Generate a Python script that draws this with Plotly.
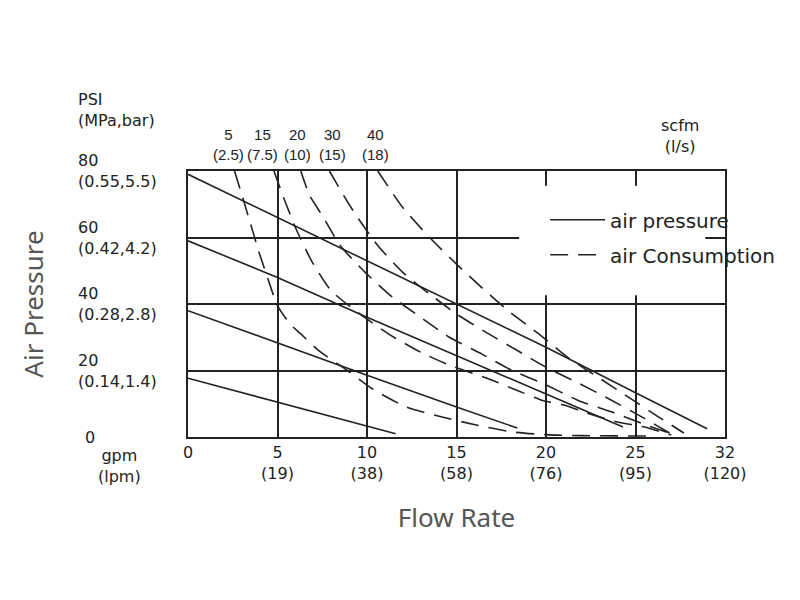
import plotly.graph_objects as go

# x is read on the drawn scale (last gridline is labelled 32)
gpm_ticks = [0, 5, 10, 15, 20, 25, 30]
gpm_labels = ["0", "5<br>(19)", "10<br>(38)", "15<br>(58)", "20<br>(76)", "25<br>(95)", "32<br>(120)"]
psi_ticks = [0, 20, 40, 60, 80]
psi_labels = ["0", "20<br>(0.14,1.4)", "40<br>(0.28,2.8)", "60<br>(0.42,4.2)", "80<br>(0.55,5.5)"]

# air pressure lines (80, 60, 40, 20 psi)
p80_x = [0, 5, 10, 15, 20, 25, 29.0]
p80_y = [79, 66, 53, 40, 27, 13.3, 2.5]
p60_x = [0, 5, 10, 15, 20, 24.3]
p60_y = [59, 48, 36, 24.5, 13, 3]
p40_x = [0, 5, 10, 15, 18.4]
p40_y = [38, 28.2, 18.6, 9, 2.7]
p20_x = [0, 5, 10, 11.6]
p20_y = [17.7, 10.5, 3.3, 1.0]

# air consumption curves (scfm)
c5_x = [2.6, 3.0, 3.5, 4.0, 4.5, 5.0, 5.7, 6.3, 7.3, 8.9, 10.3, 12.2, 14.2, 16.1, 18.0, 20.0, 22.0, 26.0]
c5_y = [80, 73, 64, 55, 47, 39.5, 34, 31, 26, 20, 14.5, 9, 6, 3.6, 1.6, 0.7, 0.4, 0.3]
c15_x = [4.8, 5.3, 6.0, 6.9, 8.0, 9.6, 11.2, 13.0, 14.6, 16.7, 18.4, 19.8, 21.0, 22.3, 24.0, 25.5, 27.0]
c15_y = [80, 72.6, 63, 53, 44, 37, 31, 25.5, 21.6, 17.7, 14, 11, 9.6, 7.2, 4.5, 3, 0.6]
c20_x = [6.3, 6.8, 7.5, 8.5, 9.9, 11.3, 13.0, 14.6, 16.4, 18.1, 19.8, 21.8, 23.7, 25.6, 26.9]
c20_y = [80, 72.6, 66.6, 57.6, 49.5, 42.6, 36, 30, 25, 20, 16.2, 11, 7.5, 3.6, 1.2]
c30_x = [7.9, 8.7, 9.4, 10.6, 12.0, 13.5, 15.0, 16.8, 18.4, 20.0, 21.7, 23.5, 25.2, 26.9]
c30_y = [80, 72.6, 66.6, 57.6, 49.5, 43, 37, 31, 26, 21, 16.5, 11.5, 6.5, 1.2]
c40_x = [10.6, 12.0, 13.5, 15.0, 16.6, 18.0, 19.7, 21.2, 22.9, 24.6, 26.3, 27.7]
c40_y = [80, 69, 60, 52, 44, 37.5, 30.6, 24, 18, 12, 6, 1.2]

scfm = ["5", "15", "20", "30", "40"]
lps = ["2.5", "7.5", "10", "15", "18"]
label_x = [2.25, 4.15, 6.1, 8.1, 10.45]

ink = "#222222"
font = "DejaVu Sans"

fig = go.Figure()

pressure = [(p80_x, p80_y), (p60_x, p60_y), (p40_x, p40_y), (p20_x, p20_y)]
for i, (xs, ys) in enumerate(pressure):
    fig.add_trace(go.Scatter(x=xs, y=ys, mode="lines", name="air pressure",
                             legendgroup="p", showlegend=(i == 0),
                             line=dict(color=ink, width=1.6)))

consumption = [(c5_x, c5_y), (c15_x, c15_y), (c20_x, c20_y), (c30_x, c30_y), (c40_x, c40_y)]
for i, (xs, ys) in enumerate(consumption):
    fig.add_trace(go.Scatter(x=xs, y=ys, mode="lines", name="air Consumption",
                             legendgroup="c", showlegend=(i == 0),
                             line=dict(color=ink, width=1.6, dash="18px,10px",
                                       shape="spline", smoothing=0.6)))

# white patch behind the legend hides the gridlines
fig.add_shape(type="rect", x0=18.5, x1=28.9, y0=42.6, y1=75.6, layer="between",
              fillcolor="white", line=dict(width=0))

for v, t in zip(psi_ticks, psi_labels):
    fig.add_annotation(x=-0.208 if v else -0.196, xref="paper", y=v, yref="y",
                       text=t, showarrow=False, xanchor="left", yanchor="middle",
                       align="left", font=dict(size=16, color=ink, family=font))

for s, l, lx in zip(scfm, lps, label_x):
    fig.add_annotation(x=lx, xref="x", y=1.10, yref="paper", text=s + "<br>(" + l + ")",
                       showarrow=False, xanchor="center", yanchor="middle",
                       font=dict(size=15, color=ink, family="Liberation Sans"))

fig.add_annotation(x=-0.208, xref="paper", y=1.23, yref="paper", text="PSI<br>(MPa,bar)",
                   showarrow=False, xanchor="left", yanchor="middle", align="left",
                   font=dict(size=16, color=ink, family=font))
fig.add_annotation(x=-0.127, xref="paper", y=-0.11, yref="paper", text="gpm<br>(lpm)",
                   showarrow=False, xanchor="center", yanchor="middle",
                   font=dict(size=16, color=ink, family=font))
fig.add_annotation(x=0.916, xref="paper", y=1.132, yref="paper", text="scfm<br>(l/s)",
                   showarrow=False, xanchor="center", yanchor="middle",
                   font=dict(size=16, color=ink, family=font))

fig.update_layout(
    width=800, height=600,
    margin=dict(l=180, r=83, t=163, b=171),
    paper_bgcolor="white", plot_bgcolor="white",
    font=dict(family=font, color=ink),
    legend=dict(x=0.665, y=0.89, xanchor="left", yanchor="top",
                bgcolor="rgba(0,0,0,0)", tracegroupgap=6, itemwidth=55,
                font=dict(size=20, color=ink, family=font)),
    xaxis=dict(range=[0, 30], tickvals=gpm_ticks, ticktext=gpm_labels,
               showgrid=True, gridcolor=ink, gridwidth=2, zeroline=False,
               showline=True, mirror=True, linecolor=ink, linewidth=2,
               tickfont=dict(size=16, color=ink, family=font),
               title=dict(text="Flow Rate", standoff=27,
                          font=dict(size=26, color="#555555", family="Noto Sans"))),
    yaxis=dict(range=[0, 80], tickvals=psi_ticks, showticklabels=False,
               showgrid=True, gridcolor=ink, gridwidth=2, zeroline=False,
               showline=True, mirror=True, linecolor=ink, linewidth=2,
               title=dict(text="Air Pressure", standoff=135,
                          font=dict(size=26, color="#555555", family="Noto Sans"))),
)

fig.write_html("out.html")
